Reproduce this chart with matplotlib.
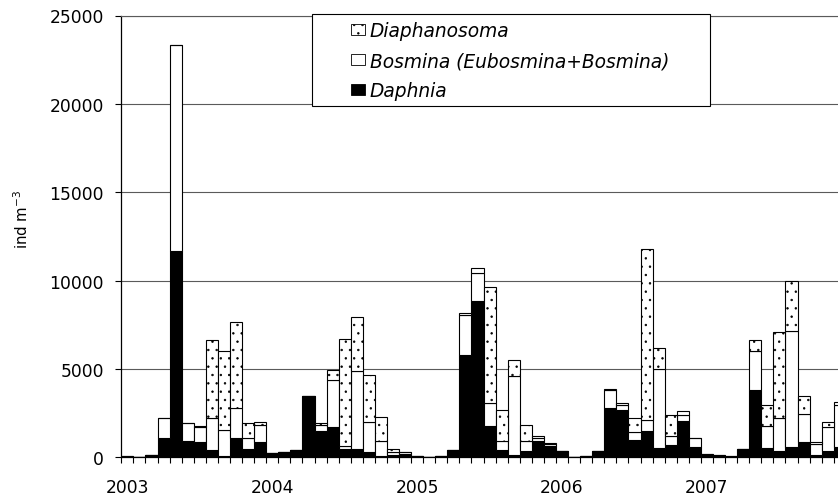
import matplotlib
matplotlib.use('Agg')
import matplotlib.pyplot as plt
from matplotlib.patches import Rectangle, Patch
import numpy as np

plt.rcParams['font.family'] = ['DejaVu Sans']
plt.rcParams['hatch.linewidth'] = 0.5
plt.rcParams['hatch.color'] = 'black'

# monthly samples, Jan 2003 - Dec 2007 (ind m-3)
years = ['2003', '2004', '2005', '2006', '2007']

daphnia = [40, 20, 120, 1080, 11700, 940, 850, 430, 90, 1080, 470, 850,
           240, 310, 410, 3450, 1490, 1700, 470, 470, 280, 60, 110, 190,
           80, 30, 80, 410, 5810, 8820, 1790, 410, 130, 370, 940, 660,
           340, 20, 60, 370, 2780, 2680, 1000, 1510, 510, 700, 2040, 600,
           120, 90, 40, 470, 3810, 540, 370, 570, 880, 130, 370, 570]

bosmina = [10, 10, 10, 1130, 11650, 990, 880, 1780, 1460, 1730, 620, 1000,
           0, 0, 0, 0, 360, 2680, 190, 4440, 1730, 880, 200, 100,
           10, 0, 0, 0, 2250, 1600, 1270, 530, 4460, 550, 170, 120,
           0, 20, 20, 0, 1050, 300, 450, 620, 4490, 490, 360, 490,
           50, 20, 20, 0, 2190, 1210, 1840, 6600, 1550, 610, 1330, 2400]

diaphanosoma = [0, 0, 0, 0, 0, 0, 50, 4420, 4490, 4860, 850, 150,
                0, 0, 0, 0, 80, 580, 6030, 3020, 2650, 1360, 140, 30,
                0, 0, 0, 0, 110, 300, 6570, 1760, 910, 920, 80, 30,
                0, 0, 0, 0, 40, 100, 780, 9630, 1170, 1220, 230, 0,
                0, 0, 0, 0, 660, 1210, 4870, 2780, 1050, 150, 320, 150]

d = np.array(daphnia)
b = np.array(bosmina)
s = np.array(diaphanosoma)
x = np.arange(len(d)) + 0.5

W, H = 838, 502
fig = plt.figure(figsize=(W / 100, H / 100), dpi=100)
# plot area runs past the right edge of the figure
ax = fig.add_axes([121.3 / W, (H - 458.3) / H, 724.5 / W, 441.8 / H])

lw = 0.8
ax.bar(x, d, width=1.0, color='black', edgecolor='black', linewidth=lw, zorder=2)
ax.bar(x, b, width=1.0, bottom=d, color='white', edgecolor='black', linewidth=lw, zorder=2)
ax.bar(x, s, width=1.0, bottom=d + b, color='white', edgecolor='black', linewidth=lw,
       hatch='..', zorder=2)

ax.set_xlim(0, 60)
ax.set_ylim(0, 25000)
ax.set_yticks(np.arange(0, 25001, 5000))
ax.yaxis.grid(True, color='#5a5a5a', linewidth=0.8)
ax.set_axisbelow(True)

ax.spines['right'].set_visible(False)
ax.spines['top'].set_color('#5a5a5a')
ax.spines['top'].set_linewidth(0.8)
ax.spines['left'].set_linewidth(0.9)
ax.spines['bottom'].set_linewidth(0.9)

ax.set_xticks(np.arange(0, 61))
ax.set_xticklabels([])
ax.set_xticks(np.arange(0, 60, 12) + 0.5, minor=True)
ax.set_xticklabels(years, minor=True)
ax.tick_params(axis='x', which='major', direction='out', length=4.3, width=0.8)
ax.tick_params(axis='x', which='minor', length=0, pad=15, labelsize=12.3)
ax.tick_params(axis='y', direction='out', length=4.3, width=0.8, pad=8.4, labelsize=12.3)

fig.text(22 / W, 1 - 219 / H, 'ind m$^{-3}$', rotation=90, ha='center', va='center',
         fontsize=10.8)

# legend frame, then entries centred inside it
frame = Rectangle((311.7 / W, (H - 106.7) / H), 398.3 / W, 91.7 / H,
                  transform=fig.transFigure, facecolor='white', edgecolor='black',
                  linewidth=0.8, zorder=4)
fig.add_artist(frame)
handles = [Patch(facecolor='white', edgecolor='black', hatch='..', linewidth=0.6),
           Patch(facecolor='white', edgecolor='black', linewidth=0.6),
           Patch(facecolor='black', edgecolor='black', linewidth=0.6)]
labels = ['Diaphanosoma', 'Bosmina (Eubosmina+Bosmina)', 'Daphnia']
leg = fig.legend(handles, labels, loc='center', bbox_to_anchor=(510 / W, 1 - 61.5 / H),
                 frameon=False, prop={'style': 'italic', 'size': 13.4},
                 handlelength=0.75, handleheight=0.55, handletextpad=0.25,
                 labelspacing=0.6, borderpad=0)
leg.set_zorder(5)

fig.savefig('out.png', dpi=100)
